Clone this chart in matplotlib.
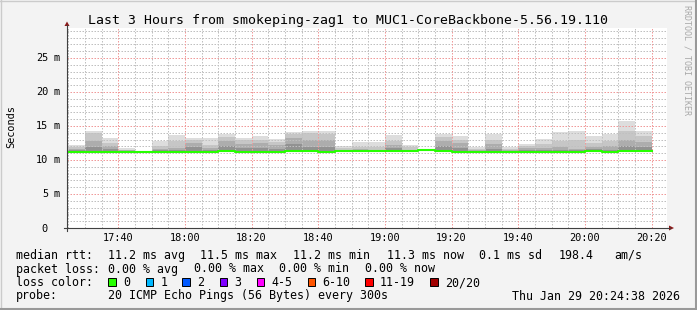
import matplotlib
matplotlib.use('Agg')
import matplotlib.pyplot as plt
from matplotlib.lines import Line2D
from matplotlib.patches import Polygon, Rectangle
from matplotlib import transforms

W, H = 697, 310
MONO = 'DejaVu Sans Mono'

title = 'Last 3 Hours from smokeping-zag1 to MUC1-CoreBackbone-5.56.19.110'

# start of each 5 minute step
steps = ['17:25', '17:30', '17:35', '17:40', '17:45', '17:50', '17:55',
         '18:00', '18:05', '18:10', '18:15', '18:20', '18:25', '18:30',
         '18:35', '18:40', '18:45', '18:50', '18:55', '19:00', '19:05',
         '19:10', '19:15', '19:20', '19:25', '19:30', '19:35', '19:40',
         '19:45', '19:50', '19:55', '20:00', '20:05', '20:10', '20:15']

# median rtt (ms)
median = [11.2, 11.2, 11.2, 11.2, 11.2, 11.2, 11.2, 11.2, 11.2, 11.35,
          11.2, 11.2, 11.2, 11.35, 11.35, 11.2, 11.35, 11.35, 11.35, 11.35,
          11.35, 11.5, 11.35, 11.2, 11.2, 11.2, 11.2, 11.2, 11.2, 11.2,
          11.2, 11.35, 11.2, 11.35, 11.3]

# smoke layers (ms), outer to inner
smoke_top = [12.25, 14.3, 13.2, 11.7, 11.2, 12.8, 13.7, 13.3, 13.2, 13.8,
             13.3, 13.5, 13.1, 14.1, 14.3, 14.3, 12.0, 12.6, 12.6, 13.6,
             12.25, 11.65, 13.8, 13.5, 11.9, 13.8, 11.9, 12.35, 13.1, 14.1,
             14.2, 13.5, 13.8, 15.7, 14.2]
smoke_mid = [11.9, 13.9, 12.5, 11.5, 11.2, 12.0, 12.8, 13.0, 12.15, 13.4,
             12.9, 13.0, 12.6, 13.8, 13.9, 13.8, 11.7, 11.9, 11.9, 12.8,
             11.9, 11.6, 13.4, 13.0, 11.6, 13.0, 11.6, 12.1, 12.3, 12.8,
             13.0, 12.5, 12.8, 14.3, 13.5]
smoke_dark = [11.6, 12.75, 12.0, 11.4, 11.2, 11.6, 11.8, 12.5, 11.8, 12.8,
              12.4, 12.5, 12.2, 13.2, 13.0, 12.9, 11.5, 11.6, 11.5, 12.2,
              11.5, 11.55, 12.8, 12.5, 11.4, 12.3, 11.4, 11.7, 11.8, 11.9,
              11.6, 11.9, 12.0, 13.0, 12.6]
smoke_core = [11.4, 11.9, 11.6, 11.3, 11.2, 11.4, 11.5, 11.9, 11.5, 12.0,
              11.8, 11.7, 11.6, 12.4, 11.9, 11.9, 11.4, 11.45, 11.4, 11.7,
              11.4, 11.5, 12.0, 11.8, 11.3, 11.6, 11.3, 11.4, 11.4, 11.5,
              11.4, 11.6, 11.5, 12.0, 11.9]
smoke_low = [m - 0.15 for m in median]

xtick_labels = ['17:40', '18:00', '18:20', '18:40', '19:00', '19:20',
                '19:40', '20:00', '20:20']
ytick_values = [0, 5, 10, 15, 20, 25]

loss_labels = ['0', '1', '2', '3', '4-5', '6-10', '11-19', '20/20']
loss_colors = ['#26ff00', '#00b8ff', '#0059ff', '#7e00ff', '#ff00ff',
               '#ff5500', '#ff0000', '#a10000']


def tmin(s):
    h, m = s.split(':')
    return int(h) * 60 + int(m)


def fx(x):
    return x / W


def fy(y):
    return 1 - y / H


x = [tmin(s) for s in steps]
t_start = tmin('17:24') + 38 / 60
t_end = tmin('20:24') + 38 / 60

fig = plt.figure(figsize=(W / 100, H / 100), dpi=100, facecolor='#f3f3f3')
ax = fig.add_axes([fx(67), fy(228), 600 / W, 200 / H])
ax.set_facecolor('white')
ax.set_xlim(t_start, t_end)
ax.set_ylim(0, 29.4)
for s in ax.spines.values():
    s.set_visible(False)
ax.set_xticks([])
ax.set_yticks([])

# smoke
layers = [(smoke_top, '#dddddd'), (smoke_mid, '#c6c6c6'),
          (smoke_dark, '#adadad'), (smoke_core, '#929292')]
for vals, col in layers:
    ax.bar(x, [v - l for v, l in zip(vals, smoke_low)], bottom=smoke_low,
           width=5, align='edge', color=col, linewidth=0, zorder=1)

# grid, dotted
gkw = dict(lw=0.72, ls=(0, (1.5, 1.5)), zorder=2)
for v in range(1, 30):
    if v % 5:
        ax.axhline(v, color='#c0c0c0', **gkw)
for v in range(5, 30, 5):
    ax.axhline(v, color='#f09a9a', **gkw)
major_t = [tmin(s) for s in xtick_labels]
for t in range(tmin('17:25'), tmin('20:25'), 5):
    if t not in major_t:
        ax.axvline(t, color='#c0c0c0', **gkw)
for t in major_t:
    ax.axvline(t, color='#f09a9a', **gkw)

# median line
ax.step(x + [x[-1] + 5], median + [median[-1]], where='post',
        color='#26ff00', lw=1.5, zorder=3)

# axes with arrows
axc = '#404040'
fig.add_artist(Line2D([fx(64), fx(670)], [fy(228), fy(228)], color=axc, lw=0.8))
fig.add_artist(Line2D([fx(67), fx(67)], [fy(231), fy(25)], color=axc, lw=0.8))
fig.add_artist(Polygon([(fx(669), fy(225.5)), (fx(674), fy(228)),
                        (fx(669), fy(230.5))], closed=True,
                       color='#8b1a1a', lw=0))
fig.add_artist(Polygon([(fx(64.5), fy(26)), (fx(67), fy(21.5)),
                        (fx(69.5), fy(26))], closed=True,
                       color='#8b1a1a', lw=0))

# tick labels
xt = transforms.blended_transform_factory(ax.transData, fig.transFigure)
for lab in xtick_labels:
    ax.text(tmin(lab), fy(241), lab, transform=xt, ha='center',
            va='baseline', fontsize=7.35, family=MONO)
yt = transforms.blended_transform_factory(fig.transFigure, ax.transData)
yt = transforms.offset_copy(yt, fig=fig, y=-3.5, units='dots')
for v in ytick_values:
    ax.text(fx(48), v, str(v), transform=yt, ha='right', va='baseline',
            fontsize=7.35, family=MONO)
    if v:
        ax.text(fx(54), v, 'm', transform=yt, ha='left', va='baseline',
                fontsize=7.35, family=MONO)

fig.text(fx(11), fy(127), 'Seconds', rotation=90, ha='center', va='center',
         fontsize=7.35, family=MONO)
fig.text(fx(348), fy(24), title, ha='center', va='baseline', fontsize=9.5,
         family=MONO)
fig.text(fx(687), fy(60), 'RRDTOOL / TOBI OETIKER', rotation=270,
         ha='center', va='center', fontsize=6, family=MONO, color='#a8a8a8')

# legend
LF = 8.35


def leg(xp, yp, s, **kw):
    fig.text(fx(xp), fy(yp), s, ha='left', va='baseline', fontsize=LF,
             family=MONO, **kw)


leg(16, 259, 'median rtt:')
leg(107.6, 259, '11.2 ms avg')
leg(200, 259, '11.5 ms max')
leg(293.3, 259, '11.2 ms min')
leg(386.7, 259, '11.3 ms now')
leg(479, 259, '0.1 ms sd')
leg(559, 259, '198.4')
leg(613.8, 259, 'am/s')

leg(16, 272.5, 'packet loss:')
leg(107.6, 272.5, '0.00 % avg')
leg(193.8, 272.5, '0.00 % max')
leg(279, 272.5, '0.00 % min')
leg(365.3, 272.5, '0.00 % now')

leg(16, 286, 'loss color:')
box_x = [108.4, 145.8, 182.2, 219.6, 256.9, 307.6, 365.3, 430.2]
for bx, lab, col in zip(box_x, loss_labels, loss_colors):
    fig.add_artist(Rectangle((fx(bx), fy(285.5)), 7.5 / W, 7.5 / H,
                             facecolor=col, edgecolor='black', lw=0.7))
    leg(bx + 14.5, 286, lab)

leg(16, 299.5, 'probe:')
leg(107.6, 299.5, '20 ICMP Echo Pings (56 Bytes) every 300s')
fig.text(fx(680.5), fy(299.5), 'Thu Jan 29 20:24:38 2026', ha='right',
         va='baseline', fontsize=LF, family=MONO)

# frame
fig.add_artist(Line2D([0, 1], [fy(0.5), fy(0.5)], color='#cbcbcb', lw=1))
fig.add_artist(Line2D([fx(0.5), fx(0.5)], [0, 1], color='#cbcbcb', lw=1))
fig.add_artist(Line2D([0, 1], [fy(309), fy(309)], color='#999999', lw=1.5))
fig.add_artist(Line2D([fx(696), fx(696)], [0, 1], color='#999999', lw=1.5))

fig.savefig('out.png', dpi=100, facecolor=fig.get_facecolor())
